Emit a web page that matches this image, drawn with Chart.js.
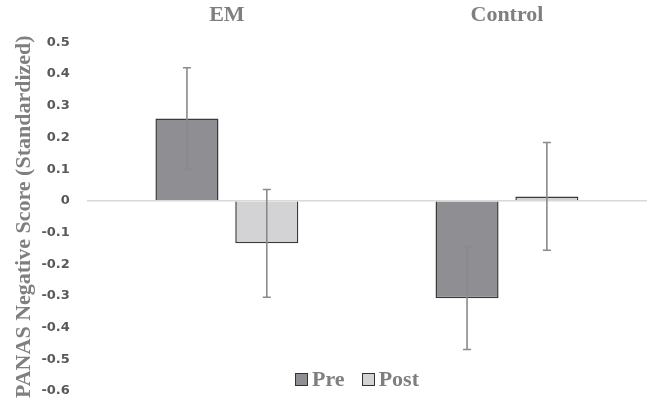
<!DOCTYPE html>
<html>
<head>
<meta charset="utf-8">
<script src="https://cdn.jsdelivr.net/npm/chart.js@4/dist/chart.umd.min.js"></script>
<style>
  html, body { margin: 0; padding: 0; background: #fff; }
  .wrap { position: relative; width: 654px; height: 401px; }
  .legend {
    position: absolute; left: 0; width: 654px; top: 366px; line-height: 24px;
    display: flex; justify-content: center; gap: 17px; padding-left: 60px; box-sizing: border-box;
    font: bold 22px "Liberation Serif", "Times New Roman", serif; color: #7f7f7f;
  }
  .legend span { display: flex; align-items: center; }
  .legend i { display: inline-block; width: 11px; height: 11px; border: 1px solid #333; margin-right: 4px; }
</style>
</head>
<body>
<div class="wrap">
  <canvas id="panasChart" width="654" height="401"></canvas>
  <div class="legend">
    <span><i style="background:#8f8f93"></i>Pre</span>
    <span><i style="background:#d3d3d5"></i>Post</span>
  </div>
</div>
<script>
const groups = ["EM", "Control"];
const preMeans = [0.26, -0.307];
const postMeans = [-0.134, 0.014];
const preErr = [0.16, 0.162];
const postErr = [0.17, 0.17];
const yTicks = [-0.6, -0.5, -0.4, -0.3, -0.2, -0.1, 0, 0.1, 0.2, 0.3, 0.4, 0.5];

const errorBars = {
  id: "errorBars",
  afterDatasetsDraw(chart) {
    const ctx = chart.ctx;
    const y = chart.scales.y;
    const errs = [preErr, postErr];
    ctx.save();
    ctx.strokeStyle = "#8a8a8a";
    ctx.lineWidth = 1.6;
    chart.data.datasets.forEach((ds, i) => {
      chart.getDatasetMeta(i).data.forEach((bar, j) => {
        const top = y.getPixelForValue(ds.data[j] + errs[i][j]);
        const bot = y.getPixelForValue(ds.data[j] - errs[i][j]);
        ctx.beginPath();
        ctx.moveTo(bar.x, top); ctx.lineTo(bar.x, bot);
        ctx.moveTo(bar.x - 4, top); ctx.lineTo(bar.x + 4, top);
        ctx.moveTo(bar.x - 4, bot); ctx.lineTo(bar.x + 4, bot);
        ctx.stroke();
      });
    });
    ctx.restore();
  }
};

new Chart(document.getElementById("panasChart"), {
  type: "bar",
  data: {
    labels: groups,
    datasets: [
      {
        label: "Pre",
        data: preMeans,
        backgroundColor: "#8f8f93",
        borderColor: "#3a3a3a",
        borderWidth: 1.5,
        barPercentage: 0.79,
        categoryPercentage: 0.57,
      },
      {
        label: "Post",
        data: postMeans,
        backgroundColor: "#d3d3d5",
        borderColor: "#3a3a3a",
        borderWidth: 1.5,
        barPercentage: 0.79,
        categoryPercentage: 0.57,
      },
    ],
  },
  options: {
    responsive: false,
    animation: false,
    // tick padding is counted twice when Chart.js fits the axes, hence the negative values
    layout: { padding: { left: 11, right: 7, top: -12, bottom: 10 } },
    plugins: {
      legend: { display: false },
      tooltip: { enabled: false },
    },
    scales: {
      x: {
        position: "top",
        grid: { display: false, drawTicks: false },
        border: { display: false },
        ticks: {
          color: "#7f7f7f",
          padding: 14,
          font: { family: "'Liberation Serif', 'Times New Roman', serif", size: 22, weight: "bold" },
        },
      },
      y: {
        min: -0.6,
        max: 0.5,
        afterBuildTicks: (axis) => {
          axis.ticks = yTicks.map((v) => ({ value: v }));
        },
        afterFit: (axis) => {
          axis.paddingTop = 0;
          axis.paddingBottom = 0;
        },
        border: { display: false },
        grid: {
          drawTicks: false,
          color: (c) => (c.tick && Math.abs(c.tick.value) < 1e-9 ? "#d9d9d9" : "rgba(0,0,0,0)"),
          lineWidth: 1.5,
        },
        ticks: {
          color: "#595959",
          padding: 17,
          font: { family: "'DejaVu Sans', sans-serif", size: 13, weight: "bold" },
          callback: (v) => {
            const r = Math.round(v * 10) / 10;
            return r === 0 ? "0" : r.toFixed(1);
          },
        },
        title: {
          display: true,
          text: "PANAS Negative Score (Standardized)",
          color: "#7f7f7f",
          padding: { top: 0, bottom: -13 },
          font: { family: "'Liberation Serif', 'Times New Roman', serif", size: 22, weight: "bold" },
        },
      },
    },
  },
  plugins: [errorBars],
});
</script>
</body>
</html>
